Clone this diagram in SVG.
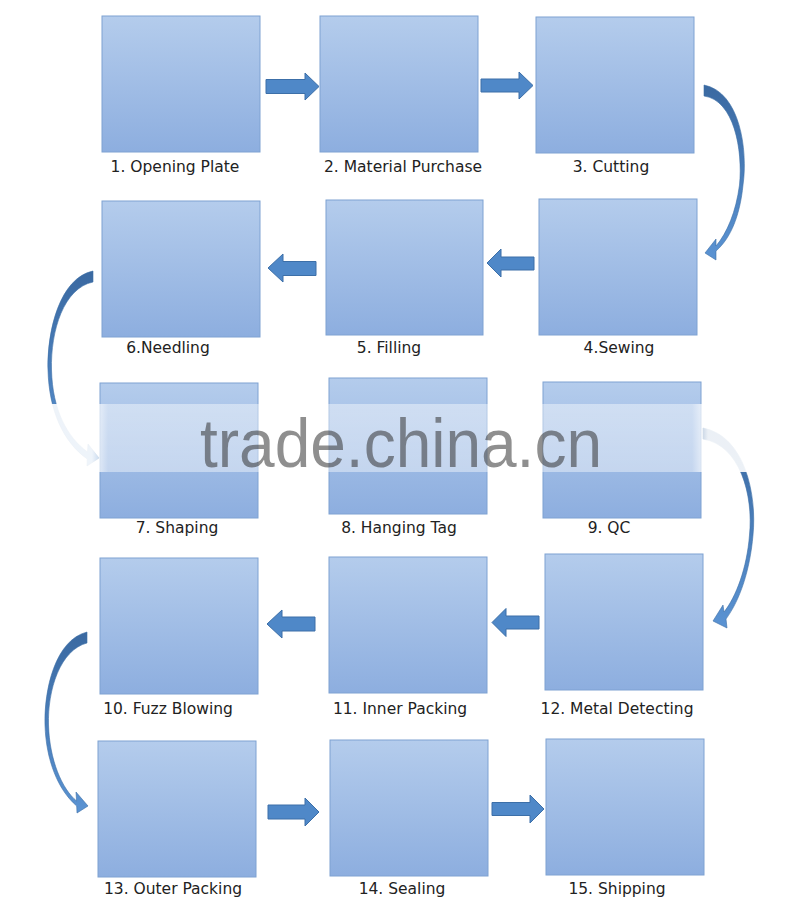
<svg xmlns="http://www.w3.org/2000/svg" width="800" height="920" viewBox="0 0 800 920">
<defs>
<linearGradient id="boxg" x1="0" y1="0" x2="0" y2="1">
<stop offset="0" stop-color="#b4ccec"/>
<stop offset="1" stop-color="#8daedf"/>
</linearGradient>
<linearGradient id="curvA" x1="0" y1="0" x2="0" y2="1">
<stop offset="0" stop-color="#3a69a1"/>
<stop offset="1" stop-color="#5a93d3"/>
</linearGradient>
<linearGradient id="band" x1="0" y1="0" x2="1" y2="0">
<stop offset="0" stop-color="#fff" stop-opacity="0"/>
<stop offset="0.05" stop-color="#fff" stop-opacity="0.9"/>
<stop offset="0.115" stop-color="#fff" stop-opacity="0.9"/>
<stop offset="0.135" stop-color="#fff" stop-opacity="0.42"/>
<stop offset="0.865" stop-color="#fff" stop-opacity="0.42"/>
<stop offset="0.885" stop-color="#fff" stop-opacity="0.9"/>
<stop offset="0.95" stop-color="#fff" stop-opacity="0.9"/>
<stop offset="1" stop-color="#fff" stop-opacity="0"/>
</linearGradient>
<style>
.box{fill:url(#boxg);stroke:#7ea2d2;stroke-width:1}
.lbl{font-family:"DejaVu Sans",Verdana,sans-serif;font-size:15.5px;fill:#222;text-anchor:middle}
.arr{fill:#4f88c8;stroke:#3c6fa8;stroke-width:1}
.carr{fill:url(#curvA);stroke:#3c6ea6;stroke-width:0.6}
.wm{font-family:"Liberation Sans",Arial,sans-serif;font-size:68px;fill:#333;fill-opacity:0.55}
</style>
</defs>
<rect width="800" height="920" fill="#fff"/>

<g id="n1"><rect class="box" x="102" y="16" width="158" height="136"/><text class="lbl" x="175" y="172">1. Opening Plate</text></g>
<g id="n2"><rect class="box" x="320" y="16" width="158" height="136"/><text class="lbl" x="403" y="172">2. Material Purchase</text></g>
<g id="n3"><rect class="box" x="536" y="17" width="158" height="136"/><text class="lbl" x="611" y="172">3. Cutting</text></g>
<g id="n6"><rect class="box" x="102" y="201" width="158" height="136"/><text class="lbl" x="168" y="353">6.Needling</text></g>
<g id="n5"><rect class="box" x="326" y="200" width="157" height="135"/><text class="lbl" x="389" y="353">5. Filling</text></g>
<g id="n4"><rect class="box" x="539" y="199" width="158" height="136"/><text class="lbl" x="619" y="353">4.Sewing</text></g>
<g id="n7"><rect class="box" x="100" y="383" width="158" height="135"/><text class="lbl" x="177" y="533">7. Shaping</text></g>
<g id="n8"><rect class="box" x="329" y="378" width="158" height="136"/><text class="lbl" x="399" y="533">8. Hanging Tag</text></g>
<g id="n9"><rect class="box" x="543" y="382" width="158" height="136"/><text class="lbl" x="609" y="533">9. QC</text></g>
<g id="n10"><rect class="box" x="100" y="558" width="158" height="136"/><text class="lbl" x="168" y="714">10. Fuzz Blowing</text></g>
<g id="n11"><rect class="box" x="329" y="557" width="158" height="136"/><text class="lbl" x="400" y="714">11. Inner Packing</text></g>
<g id="n12"><rect class="box" x="545" y="554" width="158" height="136"/><text class="lbl" x="617" y="714">12. Metal Detecting</text></g>
<g id="n13"><rect class="box" x="98" y="741" width="158" height="136"/><text class="lbl" x="173" y="894">13. Outer Packing</text></g>
<g id="n14"><rect class="box" x="330" y="740" width="158" height="136"/><text class="lbl" x="402" y="894">14. Sealing</text></g>
<g id="n15"><rect class="box" x="546" y="739" width="158" height="136"/><text class="lbl" x="617" y="894">15. Shipping</text></g>

<g id="connectors">
<polygon class="arr" points="266,79.5 305,79.5 305,73 319,86.5 305,100 305,93.5 266,93.5"/>
<polygon class="arr" points="481,79 519,79 519,72 533,85.5 519,99 519,92 481,92"/>
<polygon class="arr" points="534,257 501,257 501,249 487,263 501,277 501,270 534,270"/>
<polygon class="arr" points="316,261.5 283,261.5 283,254 268,268 283,282 283,275.5 316,275.5"/>
<polygon class="arr" points="539,616 506,616 506,608.5 492,622.5 506,636.5 506,629 539,629"/>
<polygon class="arr" points="315,617 282,617 282,610 267,624 282,638 282,631 315,631"/>
<polygon class="arr" points="268,805 305,805 305,798 319,812 305,826 305,819 268,819"/>
<polygon class="arr" points="492,802.5 530,802.5 530,795 544,809 530,823 530,815.5 492,815.5"/>
<path class="carr" d="M704,85 C740,92 748,150 743,185 C740,215 731,238 716,251 L716,260 L705,253 L716,239 L716,246 C727,233 736,212 739.5,185 C743,150 734,100 704,96 Z"/>
<path class="carr" d="M93,271 C60,278 47,330 48,370 C49,410 63,442 87.3,459 L87,466 L99,458 L88,444 L87.5,452 C67,437 52.5,410 51.5,370 C50.5,330 64,288 93,282 Z"/>
<path class="carr" d="M703,428 C745,436 757,495 753,535 C750,570 740,600 726,619 L727,628 L713,621 L723,605 L724,612 C736,597 747,568 749.5,535 C753.5,495 740,445 703,439 Z"/>
<path class="carr" d="M87,632 C55,640 44,690 45,725 C46,760 58,790 76.7,806 L77,813 L88,806 L76,792 L76.6,801 C62,789 49.5,760 48.5,725 C47.5,690 60,650 87,643 Z"/>
</g>

<rect x="0" y="404" width="800" height="68" fill="url(#band)"/>
<text class="wm" x="200" y="467" textLength="402" lengthAdjust="spacingAndGlyphs">trade.china.cn</text>
</svg>
